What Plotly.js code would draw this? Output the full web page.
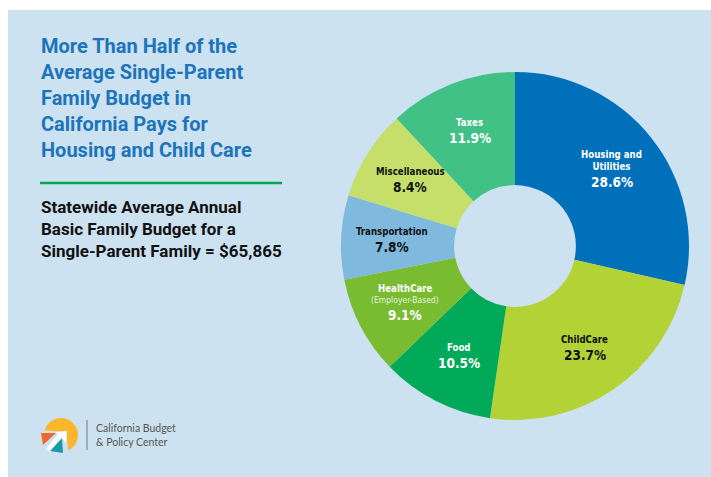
<!DOCTYPE html>
<html>
<head>
<meta charset="utf-8">
<script src="https://cdn.plot.ly/plotly-3.0.1.min.js"></script>
<style>
html,body{margin:0;padding:0;background:#fff;}
#chart{width:711px;height:477px;}
</style>
</head>
<body>
<div id="chart"></div>
<script>
// ---- Data ----
const categories = ['Housing and Utilities', 'ChildCare', 'Food', 'HealthCare', 'Transportation', 'Miscellaneous', 'Taxes'];
const labelLines = [['Housing and', 'Utilities'], ['ChildCare'], ['Food'], ['HealthCare'], ['Transportation'], ['Miscellaneous'], ['Taxes']];
const subLabels = ['', '', '', '(Employer-Based)', '', '', ''];
const shares = [28.6, 23.7, 10.5, 9.1, 7.8, 8.4, 11.9];
const sliceColors = ['#0070BA', '#B3D235', '#00AA58', '#79BC31', '#80B9DE', '#C6DF6B', '#41C185'];
const textColors = ['#ffffff', '#111111', '#ffffff', '#ffffff', '#111111', '#111111', '#ffffff'];
const titleLines = ['More Than Half of the', 'Average Single-Parent', 'Family Budget in', 'California Pays for', 'Housing and Child Care'];
const subtitleLines = ['Statewide Average Annual', 'Basic Family Budget for a', 'Single-Parent Family = $65,865'];
const orgLines = ['California Budget', '&amp; Policy Center'];

// ---- Layout helpers ----
const W = 711, H = 477;
const px = x => x / W;
const py = y => 1 - y / H;
const panelColor = '#CDE2F0';

const domX = [px(341), px(689)];
const domY = [py(420), py(72)];
const holeFrac = 0.35;

const trace = {
  type: 'pie',
  labels: categories,
  values: shares,
  sort: false,
  direction: 'clockwise',
  rotation: 0,
  hole: holeFrac,
  marker: {colors: sliceColors, line: {width: 0}},
  textinfo: 'none',
  hoverinfo: 'skip',
  showlegend: false,
  domain: {x: domX, y: domY}
};

// label positions from slice mid angles
const cxPx = (domX[0] + domX[1]) / 2 * W;
const cyPx = (1 - (domY[0] + domY[1]) / 2) * H;
const rPx = (domX[1] - domX[0]) * W / 2;
const total = shares.reduce((a, b) => a + b, 0);
const annotations = [];
let cum = 0;
const labelFont = 'DejaVu Sans Condensed, DejaVu Sans, sans-serif';
const nameLineH = 12.5, subLineH = 11, valueH = 17;
shares.forEach((v, i) => {
  const mid = (cum + v / 2) / total * 2 * Math.PI;
  cum += v;
  const rr = rPx * 0.71;
  const x = cxPx + rr * Math.sin(mid);
  const y = cyPx - rr * Math.cos(mid);
  const nameH = labelLines[i].length * nameLineH + (subLabels[i] ? subLineH : 0);
  const boundary = y + (nameH - valueH) / 2;
  let nameTxt = labelLines[i].map(s => '<b>' + s + '</b>').join('<br>');
  annotations.push({
    xref: 'paper', yref: 'paper', x: px(x),
    y: py(boundary - (subLabels[i] ? subLineH : 0)),
    xanchor: 'center', yanchor: 'bottom', align: 'center',
    showarrow: false, text: nameTxt, borderpad: 0,
    font: {family: labelFont, size: 9.6, color: textColors[i]}
  });
  if (subLabels[i]) {
    annotations.push({
      xref: 'paper', yref: 'paper', x: px(x), y: py(boundary),
      xanchor: 'center', yanchor: 'bottom', align: 'center',
      showarrow: false, text: subLabels[i], borderpad: 0,
      font: {family: labelFont, size: 8.5, color: 'rgba(255,255,255,0.85)'}
    });
  }
  annotations.push({
    xref: 'paper', yref: 'paper', x: px(x), y: py(boundary),
    xanchor: 'center', yanchor: 'top', align: 'center',
    showarrow: false, text: '<b>' + v.toFixed(1) + '%</b>', borderpad: 0,
    font: {family: labelFont, size: 13.5, color: textColors[i]}
  });
});

// title
annotations.push({
  xref: 'paper', yref: 'paper', x: px(39), y: py(32),
  xanchor: 'left', yanchor: 'top', align: 'left', showarrow: false,
  text: titleLines.map(s => '<b>' + s + '</b>').join('<br>'),
  font: {family: 'Roboto, sans-serif', size: 20, color: '#1C74BA'}
});
// subtitle
annotations.push({
  xref: 'paper', yref: 'paper', x: px(39), y: py(195),
  xanchor: 'left', yanchor: 'top', align: 'left', showarrow: false,
  text: subtitleLines.map(s => '<b>' + s + '</b>').join('<br>'),
  font: {family: 'Roboto, sans-serif', size: 17, color: '#111111'}
});
// org name
annotations.push({
  xref: 'paper', yref: 'paper', x: px(94), y: py(435),
  xanchor: 'left', yanchor: 'middle', align: 'left', showarrow: false,
  text: orgLines.join('<br>'),
  font: {family: 'Lato, sans-serif', size: 10.5, color: '#555555'}
});

function pathStr(pts) {
  return 'M' + pts.map(p => px(p[0]).toFixed(5) + ',' + py(p[1]).toFixed(5)).join(' L') + ' Z';
}

const shapes = [
  {type: 'rect', xref: 'paper', yref: 'paper', x0: px(8), x1: 1, y0: 0, y1: py(10),
   fillcolor: panelColor, line: {width: 0}, layer: 'below'},
  {type: 'line', xref: 'paper', yref: 'paper', x0: px(40), x1: px(282), y0: py(183), y1: py(183),
   line: {color: '#00A651', width: 2.5}},
  // logo
  {type: 'circle', xref: 'paper', yref: 'paper', x0: px(44), x1: px(78), y0: py(452), y1: py(418),
   fillcolor: '#FBB62B', line: {width: 0}},
  {type: 'path', xref: 'paper', yref: 'paper', path: pathStr([[38, 430], [66, 432], [69, 456], [38, 456]]),
   fillcolor: panelColor, line: {width: 0}},
  {type: 'path', xref: 'paper', yref: 'paper', path: pathStr([[46, 449], [58, 434], [55, 432], [67, 431], [66, 443], [63, 439], [51, 452]]),
   fillcolor: '#ffffff', line: {width: 0}},
  {type: 'path', xref: 'paper', yref: 'paper', path: pathStr([[41, 433], [56, 433], [43, 445]]),
   fillcolor: '#EE6A2B', line: {width: 0}},
  {type: 'path', xref: 'paper', yref: 'paper', path: pathStr([[50, 451], [63, 453], [62, 438]]),
   fillcolor: '#1A9BA6', line: {width: 0}},
  {type: 'line', xref: 'paper', yref: 'paper', x0: px(87), x1: px(87), y0: py(420), y1: py(450),
   line: {color: '#8A8A8A', width: 1.2}}
];

const layout = {
  width: W, height: H,
  margin: {l: 0, r: 0, t: 0, b: 0},
  paper_bgcolor: '#ffffff',
  showlegend: false,
  annotations: annotations,
  shapes: shapes
};

Plotly.newPlot('chart', [trace], layout, {displayModeBar: false, staticPlot: true});
</script>
</body>
</html>
